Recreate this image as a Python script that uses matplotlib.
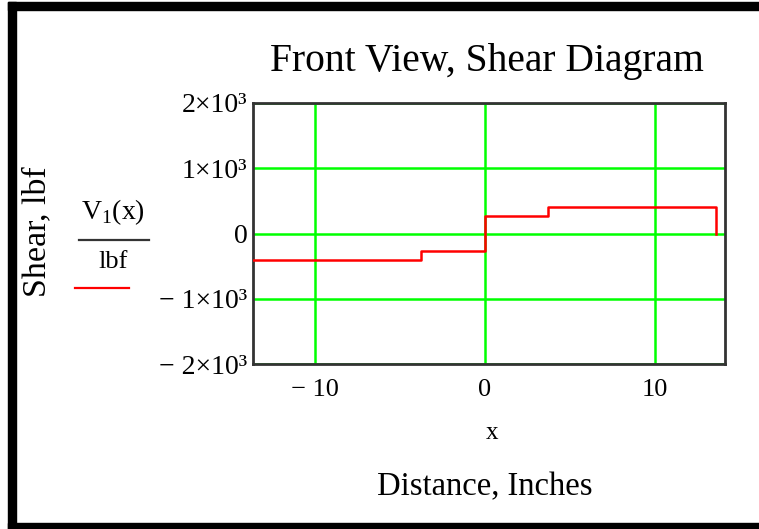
import matplotlib
matplotlib.use("Agg")
import matplotlib.pyplot as plt
from matplotlib.patches import Rectangle

plt.rcParams['font.family'] = ['Liberation Serif', 'DejaVu Serif']
plt.rcParams['mathtext.fontset'] = 'custom'
plt.rcParams['mathtext.rm'] = 'Liberation Serif'

# shear along the beam (steps-post)
x_in = [-13.65, -3.75, 0.0, 3.75, 13.6, 13.6]
shear_lbf = [-400, -267, 267, 400, 400, 0]

x_ticks = [-10, 0, 10]
x_labels = ["\u2212 10", "0", "10"]
y_ticks = [-2000, -1000, 0, 1000, 2000]
y_labels = ["\u2212 2\u00d710\u00b3", "\u2212 1\u00d710\u00b3", "0", "1\u00d710\u00b3", "2\u00d710\u00b3"]

W, H = 759, 529
fig = plt.figure(figsize=(W / 100, H / 100), dpi=100)

def fx(px):
    return px / W

def fy(py):
    return 1 - py / H

ax = fig.add_axes([fx(253), fy(364), fx(725) - fx(253), fy(103) - fy(364)])
ax.plot(x_in, shear_lbf, drawstyle="steps-post", color="#ff0000", lw=1.8, zorder=3)
ax.set_xlim(-13.65, 14.15)
ax.set_ylim(-2000, 2000)
ax.set_xticks(x_ticks)
ax.set_xticklabels(x_labels)
ax.set_yticks(y_ticks)
ax.set_yticklabels(y_labels)
ax.tick_params(length=0, labelsize=19, pad=11)
ax.tick_params(axis="y", labelsize=20, pad=4)
ax.grid(True, color="#00ff00", lw=1.8)
for s in ax.spines.values():
    s.set_color("#333333")
    s.set_linewidth(2)

fig.text(fx(487), fy(61), "Front View, Shear Diagram", ha="center", va="center", fontsize=28.5)
fig.text(fx(492), fy(433), "x", ha="center", va="center", fontsize=18)
fig.text(fx(485), fy(487), "Distance, Inches", ha="center", va="center", fontsize=23.5)
fig.text(fx(37), fy(232), "Shear, lbf", ha="center", va="center", rotation=90, fontsize=24.5)
fig.text(fx(113), fy(212), r"V$_\mathregular{1}$(x)", ha="center", va="center", fontsize=20)
fig.text(fx(113), fy(262), "lbf", ha="center", va="center", fontsize=19)
fig.add_artist(plt.Line2D([fx(79), fx(149)], [fy(240), fy(240)], color="#333333", lw=1.6))
fig.add_artist(plt.Line2D([fx(75), fx(129)], [fy(288), fy(288)], color="#ff0000", lw=1.6))

# black frame around the sheet
fig.add_artist(Rectangle((fx(8), fy(10)), 1 - fx(8), fy(2) - fy(10), color="black", transform=fig.transFigure))
fig.add_artist(Rectangle((fx(8), 0), fx(16) - fx(8), fy(2), color="black", transform=fig.transFigure))
fig.add_artist(Rectangle((fx(8), 0), 1 - fx(8), fy(523), color="black", transform=fig.transFigure))

fig.savefig("out.png", dpi=100)
